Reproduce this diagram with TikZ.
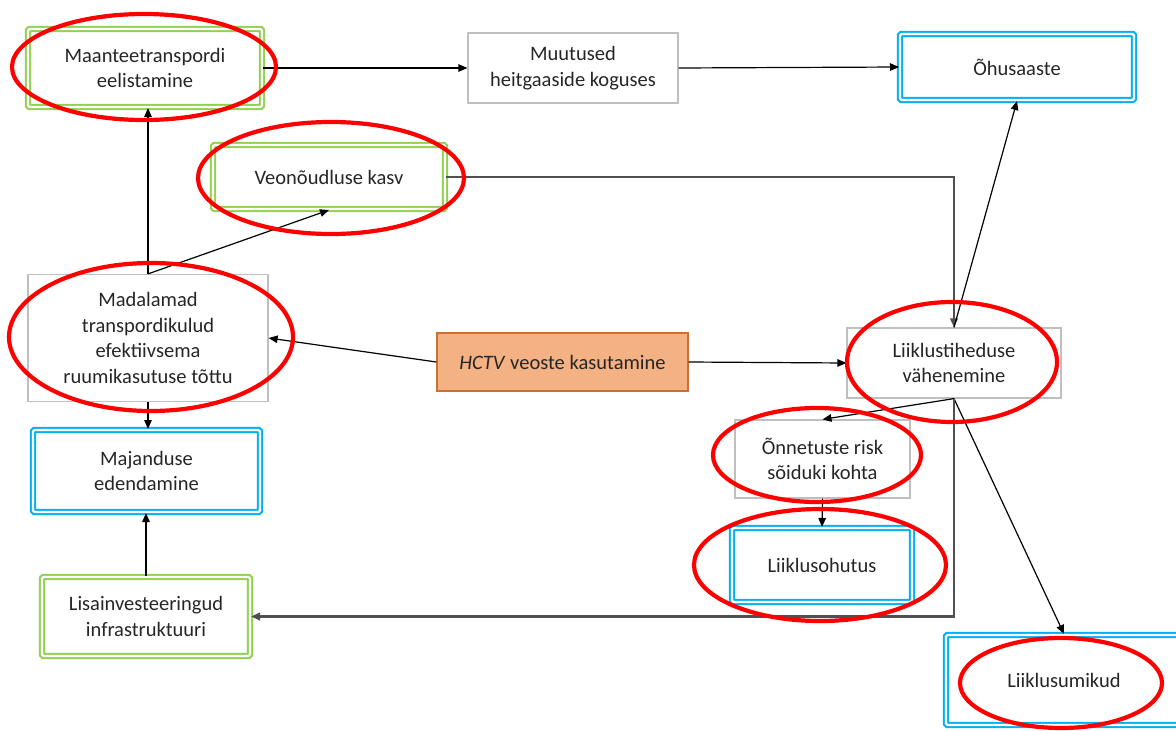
\documentclass[tikz,border=0pt]{standalone}
\usepackage{fontspec}
\setmainfont{Carlito}
\usetikzlibrary{arrows.meta}
\definecolor{grn}{RGB}{146,208,80}
\definecolor{blu}{RGB}{0,176,240}
\definecolor{gbox}{RGB}{191,191,191}
\definecolor{orfill}{RGB}{244,177,131}
\definecolor{ordraw}{RGB}{205,110,50}
\definecolor{txt}{RGB}{38,38,38}
\definecolor{conn}{RGB}{80,80,80}
\begin{document}
\begin{tikzpicture}[x=1pt,y=-1pt,
  every node/.style={font=\fontsize{20.5}{25.5}\selectfont, text=txt, align=center, inner sep=0pt},
  greenbox/.style={draw=grn, double=white, line width=2pt, double distance=2.4pt, rounded corners=1.5pt},
  bluebox/.style={draw=blu, double=white, line width=2pt, double distance=2.4pt, rounded corners=1.5pt},
  graybox/.style={draw=gbox, line width=1.2pt},
  orangebox/.style={draw=ordraw, fill=orfill, line width=1.3pt},
  arr/.style={draw=black, line width=1.2pt, -{Triangle[length=9pt,width=7.5pt]}},
  garr/.style={draw=conn, line width=2.2pt, -{Triangle[length=9pt,width=7.5pt]}},
  hl/.style={draw=red, line width=4.2pt}
]
\useasboundingbox (0,0) rectangle (1176,731);
\fill[white] (0,0) rectangle (1176,731);

% nodes
\node[greenbox, minimum width=234pt, minimum height=78pt] (maan) at (145,68) {Maanteetranspordi\\eelistamine};
\node[graybox, minimum width=210pt, minimum height=70pt] (muut) at (573,68) {Muutused\\heitgaaside koguses};
\node[bluebox, minimum width=234pt, minimum height=66pt] (ohus) at (1017,67) {Õhusaaste};
\node[greenbox, minimum width=232pt, minimum height=64pt] (veon) at (329,177) {Veonõudluse kasv};
\node[graybox, minimum width=240pt, minimum height=127pt] (mada) at (148,338) {Madalamad\\transpordikulud\\efektiivsema\\ruumikasutuse tõttu};
\node[bluebox, minimum width=227pt, minimum height=82pt] (maj) at (146.5,471) {Majanduse\\edendamine};
\node[orangebox, minimum width=251pt, minimum height=58pt] (hctv) at (562.5,362) {\textit{HCTV} veoste kasutamine};
\node[graybox, minimum width=214pt, minimum height=70pt] (liik) at (954,363) {Liiklustiheduse\\vähenemine};
\node[graybox, minimum width=175pt, minimum height=78pt] (onn) at (822.5,459) {Õnnetuste risk\\sõiduki kohta};
\node[bluebox, minimum width=180pt, minimum height=74pt] (ohut) at (822,565) {Liiklusohutus};
\node[bluebox, minimum width=236pt, minimum height=90pt] (umik) at (1064,680) {Liiklusumikud};
\node[greenbox, minimum width=208pt, minimum height=79pt] (lisa) at (146,616.5) {Lisainvesteeringud\\infrastruktuuri};

% connectors
\draw[arr] (maan.east) -- (muut.west);
\draw[arr] (muut.east) -- (ohus.west);
\draw[arr] (mada.north) -- (mada.north |- maan.south);
\draw[arr] (mada.north) -- (veon.south);
\draw[garr] (veon.east) -| (liik.north);
\draw[arr] (liik.north) -- (ohus.south);
\draw[arr] (hctv.west) -- (mada.east);
\draw[arr] (hctv.east) -- (liik.west);
\draw[arr] (mada.south) -- (mada.south |- maj.north);
\draw[arr] (lisa.north) -- (lisa.north |- maj.south);
\draw[arr] (liik.south) -- (onn.north);
\draw[arr] (liik.south) -- (umik.north);
\draw[arr] (onn.south) -- (ohut.north);
\draw[garr] (liik.south) |- (lisa.east);

% red highlight ellipses
\draw[hl] (144,67) ellipse [x radius=132, y radius=53];
\draw[hl] (331,178) ellipse [x radius=133, y radius=56];
\draw[hl] (151,337) ellipse [x radius=142, y radius=74];
\draw[hl] (952,362) ellipse [x radius=105, y radius=60];
\draw[hl] (817,455) ellipse [x radius=104, y radius=47];
\draw[hl] (820,565) ellipse [x radius=126, y radius=56];
\draw[hl] (1061,683) ellipse [x radius=101, y radius=45];
\end{tikzpicture}
\end{document}
